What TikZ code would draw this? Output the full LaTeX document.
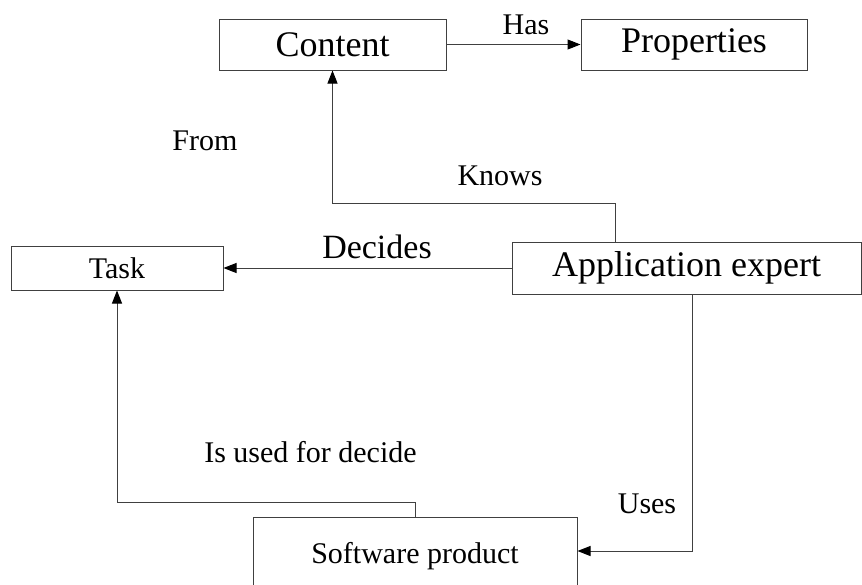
\documentclass[tikz,border=0pt]{standalone}
\usepackage{fontspec}
\setmainfont{Liberation Serif}
\usetikzlibrary{arrows.meta, positioning}

\begin{document}
\begin{tikzpicture}[x=1pt, y=-1pt,
    box/.style={draw=black!75, line width=1pt, inner sep=0pt,
      font=\fontsize{36}{40}\selectfont},
    smallbox/.style={box, font=\fontsize{30}{34}\selectfont},
    link/.style={-{Triangle[length=13pt,width=10pt,color=black]}, draw=black!75, line width=1pt},
    lbl/.style={anchor=base, inner sep=0pt, font=\fontsize{30}{34}\selectfont}]
  \useasboundingbox (0,0) rectangle (862,584);

  % boxes
  \node[box, minimum width=227pt, minimum height=51pt] (content) at (332.5,44.5) {Content};
  \node[box, minimum width=226pt, minimum height=51pt] (props) at (694,44.5) {Properties};
  \node[smallbox, minimum width=212pt, minimum height=44pt] (task) at (117,268) {Task};
  \node[box, minimum width=349pt, minimum height=52pt] (expert) at (686.5,268) {Application expert};
  \node[smallbox, minimum width=324pt, minimum height=78pt] (software) at (415,556) {Software product};

  % bends of the connectors
  \coordinate (knowsbend) at (615,203);
  \coordinate (usesbend) at (692,551);
  \coordinate (usedbend) at (117,502);

  % connectors
  \draw[link] (content.east) -- (props.west);
  \draw[link] (expert.north -| knowsbend) -- (knowsbend) -| (content.south);
  \draw[link] (expert.west) -- (task.east);
  \draw[link] (expert.south -| usesbend) -- (usesbend) -- (usesbend -| software.east);
  \draw[link] (software.north) |- (usedbend) -- (task.south);

  % labels
  \node[lbl] (has) at (526,34) {Has};
  \node[lbl] (from) at (205,150) {From};
  \node[lbl] (knows) at (500,185) {Knows};
  \node[lbl, font=\fontsize{34}{38}\selectfont] (decides) at (377,258) {Decides};
  \node[lbl] (used) at (310.5,462) {Is used for decide};
  \node[lbl] (uses) at (647,513) {Uses};
\end{tikzpicture}
\end{document}
